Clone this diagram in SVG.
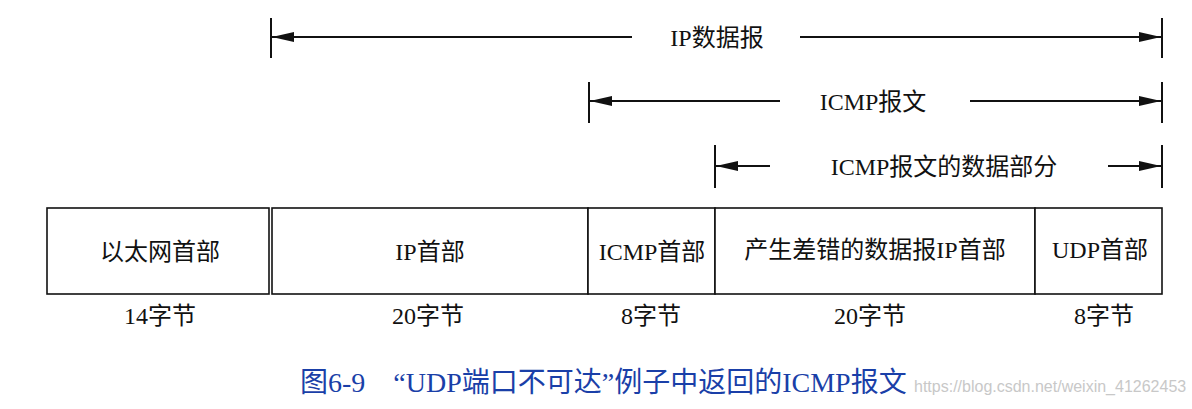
<svg xmlns="http://www.w3.org/2000/svg" width="1192" height="409" viewBox="0 0 1192 409">
<style>
.t{font-family:"Liberation Serif","Noto Sans CJK SC",serif;font-size:24px;fill:#111;text-anchor:middle}
.ln{stroke:#111;stroke-width:2;fill:none}
.tk{stroke:#111;stroke-width:2}
.box{fill:#fff;stroke:#111;stroke-width:1.6}
.cap{font-family:"Liberation Serif","Noto Sans CJK SC",serif;font-size:28px;fill:#1a3fa8}
.wm{font-family:"Liberation Sans","Noto Sans",sans-serif;font-size:16px;fill:#c8c8c8}
</style>
<defs>
<marker id="ah" viewBox="0 0 22 10" refX="22" refY="5" markerWidth="22" markerHeight="10" markerUnits="userSpaceOnUse" orient="auto-start-reverse">
<path d="M0,0 L22,5 L0,10 Z" fill="#111"/>
</marker>
</defs>
<rect width="1192" height="409" fill="#fff"/>
<g id="connectors">
<line class="tk" x1="271" y1="18" x2="271" y2="58"/>
<line class="tk" x1="1162" y1="18" x2="1162" y2="58"/>
<line class="ln" x1="632" y1="37" x2="272" y2="37" marker-end="url(#ah)"/>
<line class="ln" x1="800" y1="37" x2="1161" y2="37" marker-end="url(#ah)"/>
<line class="tk" x1="589" y1="82" x2="589" y2="123"/>
<line class="tk" x1="1162" y1="82" x2="1162" y2="123"/>
<line class="ln" x1="780" y1="101" x2="590" y2="101" marker-end="url(#ah)"/>
<line class="ln" x1="970" y1="101" x2="1161" y2="101" marker-end="url(#ah)"/>
<line class="tk" x1="715" y1="145" x2="715" y2="188"/>
<line class="tk" x1="1162" y1="145" x2="1162" y2="188"/>
<line class="ln" x1="770" y1="166" x2="716" y2="166" marker-end="url(#ah)"/>
<line class="ln" x1="1108" y1="166" x2="1161" y2="166" marker-end="url(#ah)"/>
</g>
<g id="label-ip">
<text class="t" x="717" y="46">IP数据报</text>
</g>
<g id="label-icmp">
<text class="t" x="873" y="110">ICMP报文</text>
</g>
<g id="label-icmpdata">
<text class="t" x="944" y="175">ICMP报文的数据部分</text>
</g>
<g id="eth">
<rect class="box" x="47" y="208" width="222" height="86"/>
<text class="t" x="160" y="260">以太网首部</text>
<text class="t" x="160" y="324">14字节</text>
</g>
<g id="iphdr">
<rect class="box" x="272" y="208" width="316" height="86"/>
<text class="t" x="430" y="260">IP首部</text>
<text class="t" x="428" y="324">20字节</text>
</g>
<g id="icmphdr">
<rect class="box" x="588" y="208" width="127" height="86"/>
<text class="t" x="652" y="260">ICMP首部</text>
<text class="t" x="651" y="324">8字节</text>
</g>
<g id="orig-iphdr">
<rect class="box" x="715" y="208" width="320" height="86"/>
<text class="t" x="875" y="258">产生差错的数据报IP首部</text>
<text class="t" x="870" y="324">20字节</text>
</g>
<g id="udphdr">
<rect class="box" x="1035" y="208" width="127" height="86"/>
<text class="t" x="1100" y="258">UDP首部</text>
<text class="t" x="1104" y="324">8字节</text>
</g>
<g id="caption">
<text class="cap" x="300" y="392">图6-9　“UDP端口不可达”例子中返回的ICMP报文</text>
<text class="wm" x="914" y="392">https://blog.csdn.net/weixin_41262453</text>
</g>
</svg>
